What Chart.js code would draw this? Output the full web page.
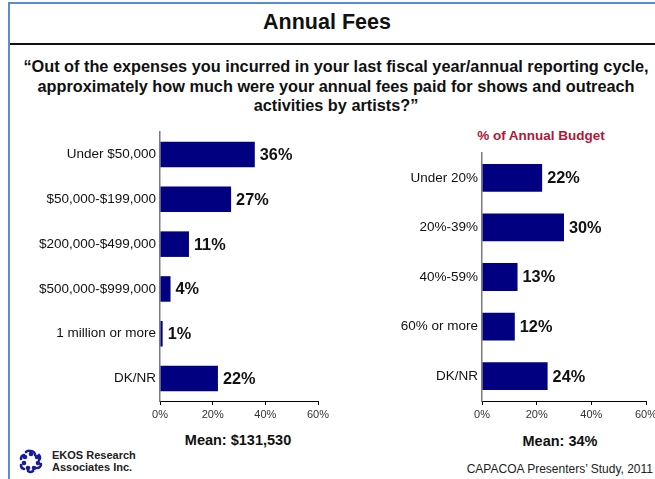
<!DOCTYPE html>
<html><head><meta charset="utf-8">
<script src="https://cdn.jsdelivr.net/npm/chart.js@4.4.0/dist/chart.umd.min.js"></script>
<style>
html,body{margin:0;padding:0;width:655px;height:479px;overflow:hidden;background:#fff;font-family:'Liberation Sans',Arial,sans-serif;position:relative;}
#frame{position:absolute;left:8px;top:2px;width:700px;height:520px;border-left:2px solid #5B8BD0;border-top:2px solid #5B8BD0;}
.t{position:absolute;white-space:nowrap;transform:translate(-50%,-50%);color:#111;}
.box{position:absolute;}
</style></head><body>
<div id="frame"></div>
<div style="position:absolute;left:10px;top:43px;width:660px;height:2px;background:#111;"></div>
<div class="t" style="left:327px;top:22px;font-size:21.5px;font-weight:bold;">Annual Fees</div>
<div class="t" style="left:336px;top:66px;font-size:16.3px;font-weight:bold;">“Out of the expenses you incurred in your last fiscal year/annual reporting cycle,</div>
<div class="t" style="left:336px;top:86px;font-size:16.3px;font-weight:bold;">approximately how much were your annual fees paid for shows and outreach</div>
<div class="t" style="left:336px;top:105px;font-size:16.3px;font-weight:bold;">activities by artists?”</div>
<div class="t" style="left:541px;top:135px;font-size:13.5px;font-weight:bold;color:#B0173A;">% of Annual Budget</div>
<div class="t" style="left:238px;top:440px;font-size:14.5px;font-weight:bold;">Mean: $131,530</div>
<div class="t" style="left:560px;top:441px;font-size:14.5px;font-weight:bold;">Mean: 34%</div>
<div class="t" style="font-size:12px;transform:none;left:auto;right:2px;top:462px;color:#222;">CAPACOA Presenters’ Study, 2011</div>
<div class="t" style="transform:none;left:52px;top:449px;font-size:11px;font-weight:bold;line-height:12px;color:#222;">EKOS Research<br>Associates Inc.</div>
<svg style="position:absolute;left:18px;top:448px" width="26" height="26" viewBox="0 0 26 26">
  <g fill="none" stroke="#1a1aa0" stroke-width="2.6" stroke-linecap="round">
    <path d="M13 3 a4 4 0 0 1 4 4"/><path d="M21 7 a4 4 0 0 1 0 5"/><path d="M23 16 a4 4 0 0 1 -4 4"/>
    <path d="M15 23 a4 4 0 0 1 -5 0"/><path d="M6 21 a4 4 0 0 1 -3 -4"/><path d="M3 11 a4 4 0 0 1 3 -4"/><path d="M8 4 a4 4 0 0 1 4 -1"/>
  </g>
  <g fill="#1a1aa0">
    <circle cx="13" cy="6" r="2.3"/><circle cx="19" cy="9" r="2.3"/><circle cx="20" cy="15" r="2.3"/><circle cx="16" cy="20" r="2.3"/>
    <circle cx="10" cy="20" r="2.3"/><circle cx="6" cy="15" r="2.3"/><circle cx="7" cy="9" r="2.3"/>
  </g>
</svg>
<div class="box" style="left:0;top:120px;width:335px;height:310px;"><canvas id="c1" width="335" height="310"></canvas></div>
<div class="box" style="left:340px;top:120px;width:330px;height:310px;"><canvas id="c2" width="330" height="310"></canvas></div>
<script>
const feeCategories = ['Under $50,000', '$50,000-$199,000', '$200,000-$499,000', '$500,000-$999,000', '1 million or more', 'DK/NR'];
const feeValues = [36, 27, 11, 4, 1, 22];
const budgetCategories = ['Under 20%', '20%-39%', '40%-59%', '60% or more', 'DK/NR'];
const budgetValues = [22, 30, 13, 12, 24];
const axisTicks = [0, 20, 40, 60];

const FONT = "'Liberation Sans', Arial, sans-serif";
Chart.defaults.font.family = FONT;

const valueLabels = {
  id: 'valueLabels',
  afterDatasetsDraw(chart) {
    const ctx = chart.ctx;
    const meta = chart.getDatasetMeta(0);
    const data = chart.data.datasets[0].data;
    ctx.save();
    ctx.font = 'bold 16.3px ' + FONT;
    ctx.fillStyle = '#111';
    ctx.textAlign = 'left';
    ctx.textBaseline = 'middle';
    meta.data.forEach((bar, i) => {
      ctx.fillText(data[i] + '%', bar.x + 5, bar.y + 1);
    });
    ctx.restore();
  }
};

function makeChart(id, labels, values, opts) {
  return new Chart(document.getElementById(id), {
    type: 'bar',
    data: {
      labels: labels,
      datasets: [{
        data: values,
        backgroundColor: '#000080',
        borderWidth: 0,
        categoryPercentage: 1,
        barPercentage: opts.barPct
      }]
    },
    options: {
      indexAxis: 'y',
      responsive: false,
      animation: false,
      devicePixelRatio: 1,
      layout: { padding: { top: opts.top, right: opts.right, left: 0, bottom: 0 } },
      plugins: { legend: { display: false }, tooltip: { enabled: false } },
      scales: {
        x: {
          min: axisTicks[0], max: axisTicks[axisTicks.length - 1],
          afterBuildTicks(s) { s.ticks = axisTicks.map(v => ({ value: v })); },
          ticks: { callback: v => v + '%', font: { size: 11 }, color: '#333', padding: 3, maxRotation: 0 },
          grid: { display: true, drawOnChartArea: false, drawTicks: true, tickLength: 4, color: '#000' },
          border: { display: true, color: '#000', width: 1 },
          afterFit(s) { s.height = 29; }
        },
        y: {
          ticks: { font: { size: 13.5 }, color: '#111', padding: 4 },
          grid: { display: false, drawTicks: false, tickLength: 0 },
          border: { display: true, color: '#7a7a7a', width: 1.5 },
          afterFit(s) { s.width = opts.yWidth; }
        }
      }
    },
    plugins: [valueLabels]
  });
}

makeChart('c1', feeCategories, feeValues, { barPct: 0.57, top: 5, right: 17, yWidth: 160 });
makeChart('c2', budgetCategories, budgetValues, { barPct: 0.56, top: 33, right: 24, yWidth: 142 });
</script>
</body></html>
